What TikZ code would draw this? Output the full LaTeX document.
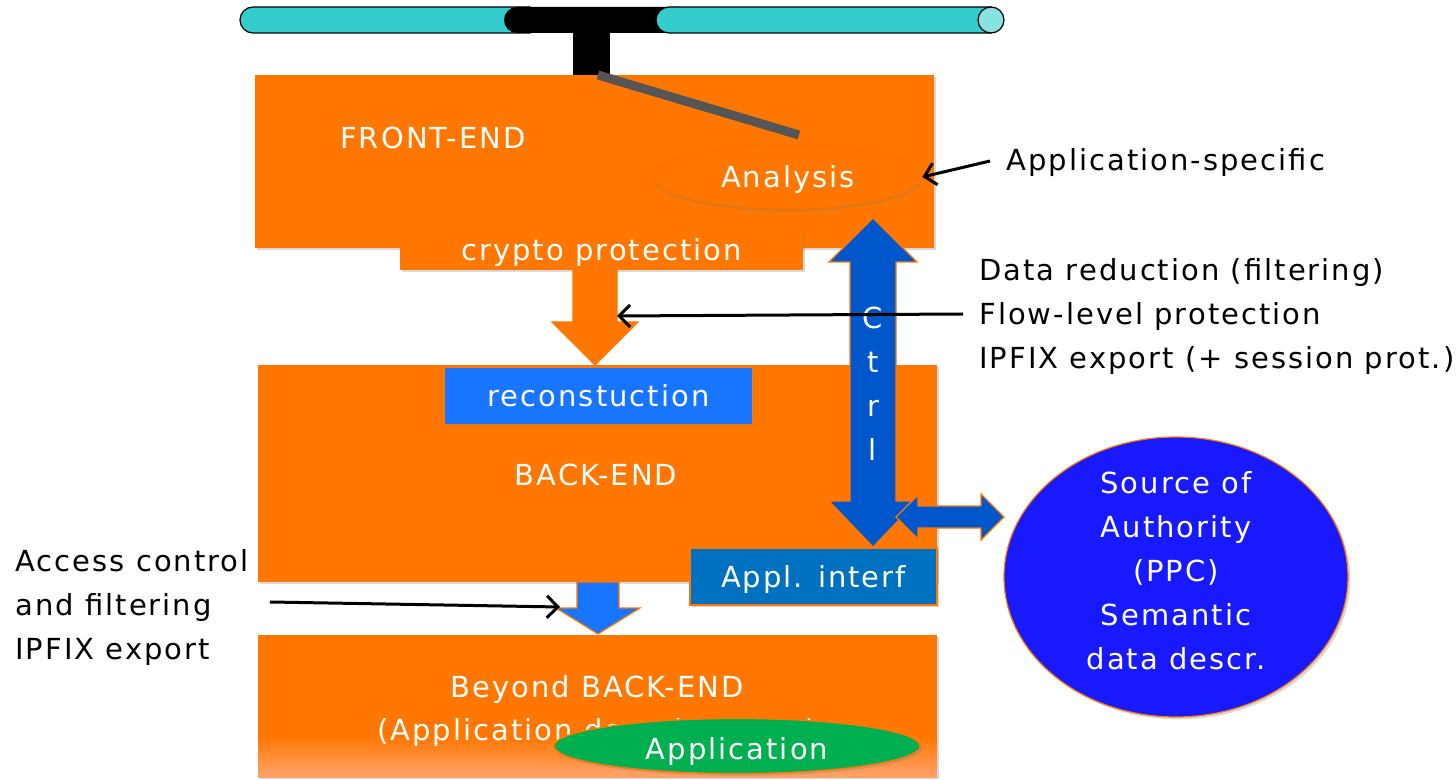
\documentclass[tikz,border=0pt]{standalone}
\usepackage{fontspec}
\setmainfont{DejaVu Sans}[LetterSpace=7]
\usetikzlibrary{arrows.meta,shadows,calc,shapes.geometric}

\definecolor{boxorange}{HTML}{FF7700}
\definecolor{lightorange}{HTML}{FFA36A}
\definecolor{pipecyan}{HTML}{33CCCC}
\definecolor{pipeface}{HTML}{88E2E0}
\definecolor{bargray}{HTML}{555555}
\definecolor{reconblue}{HTML}{1775FF}
\definecolor{ctrlblue}{HTML}{0057CC}
\definecolor{interfblue}{HTML}{0070C0}
\definecolor{authblue}{HTML}{1919FF}
\definecolor{appgreen}{HTML}{00B050}

\tikzset{
  softshadow/.style={drop shadow={opacity=0.3,shadow xshift=1.2pt,shadow yshift=-1.2pt}},
  block/.style={fill=boxorange, inner sep=0pt, softshadow},
  subbox/.style={inner sep=0pt, softshadow},
  wtext/.style={text=white, inner sep=0pt, text height=0.72em, text depth=0.02em, yshift=-2pt},
  note/.style={text=black, align=left, inner sep=0pt, anchor=west, yshift=-1.5pt},
  pointer/.style={draw=black, line width=1.5pt, -{Straight Barb[length=5.5pt,width=11pt,line width=1.5pt]}},
  blockarrow/.style={draw=boxorange, line width=0.6pt, line join=miter},
}

\begin{document}
\begin{tikzpicture}[x=0.5pt,y=-0.5pt,font=\fontsize{14.5pt}{22pt}\selectfont]
\useasboundingbox (0,0) rectangle (1456,780);

% ---- network pipe with tap ----
\filldraw[fill=pipecyan,draw=black,line width=0.6pt]
  (530,7) -- (253,7) arc[start angle=270,end angle=90,radius=13] -- (530,33) -- cycle;
\fill[black] (680,7) -- (517,7) arc[start angle=270,end angle=90,radius=13] -- (680,33) -- cycle;
\filldraw[fill=pipecyan,draw=black,line width=0.6pt]
  (991,7) -- (669,7) arc[start angle=270,end angle=90,radius=13] -- (991,33) -- cycle;
\filldraw[fill=pipeface,draw=black,line width=0.6pt] (991,20) circle[radius=13];
\fill[black] (573,30) rectangle (610,76);

% ---- front-end ----
\node[block, minimum width=339.5pt, minimum height=86.5pt] (fe) at (594.5,161.5) {};
\node[wtext] (fetext) at (433,138) {FRONT-END};
\draw[line width=4.5pt, bargray, softshadow] (598,75) -- (799,135);
\node[ellipse, fill=boxorange, draw=boxorange!95!black, line width=0.3pt, inner sep=0pt,
      minimum width=134pt, minimum height=32pt,
      drop shadow={opacity=0.3,shadow xshift=0pt,shadow yshift=-1.2pt}] (ana) at (788,177) {};
\node[wtext] at (ana) {Analysis};
\node[block, minimum width=201.5pt, minimum height=20pt] (crypto) at (601.5,250) {};
\node[wtext] at (crypto) {crypto protection};

% ---- back-end ----
\node[block, minimum width=339.5pt, minimum height=108.5pt] (be) at (597.5,473.5) {};
\node[wtext] (betext) at (596,474) {BACK-END};
\node[subbox, fill=reconblue, draw=boxorange, line width=0.6pt,
      minimum width=154.5pt, minimum height=29pt] (recon) at (598.5,396) {};
\node[wtext] at (recon) {reconstuction};

% orange flow arrow from crypto protection into the back-end
\filldraw[fill=boxorange, blockarrow]
  (573,270) -- (573,322) -- (552,322) -- (595,365) -- (638,322) -- (617,322) -- (617,270) -- cycle;
\coordinate (flowedge) at (617,316);

% ---- control channel ----
\filldraw[fill=ctrlblue, blockarrow]
  (873,218) -- (917,262) -- (896,262) -- (896,501) -- (917,501) -- (873,547)
  -- (829,501) -- (850,501) -- (850,262) -- (829,262) -- cycle;
\node[text=white, inner sep=0pt, align=center] (ctrl) at (873,384) {C\\t\\r\\l};

\node[subbox, fill=interfblue, draw=boxorange, line width=0.6pt,
      minimum width=123.5pt, minimum height=28.5pt] (interf) at (813.5,576.5) {};
\node[wtext] at (interf) {Appl. interf};

% ---- source of authority ----
\node[ellipse, fill=authblue, draw=boxorange, line width=0.6pt, inner sep=0pt,
      minimum width=172pt, minimum height=140pt, softshadow] (auth) at (1176,577) {};
\node[text=white, align=center, inner sep=0pt] at (1176,571)
  {Source of\\Authority\\(PPC)\\Semantic\\data descr.};

\filldraw[fill=ctrlblue, blockarrow]
  (896,517) -- (918,495) -- (918,506) -- (981,506) -- (981,494) -- (1004,517)
  -- (981,540) -- (981,528) -- (918,528) -- (918,539) -- cycle;

% ---- beyond back-end ----
\node[block, minimum width=339.5pt, minimum height=71pt] (bbe) at (597.5,706) {};
\shade[top color=boxorange, bottom color=lightorange] (258,736) rectangle (937,777);
\node[wtext] at (597,686) {Beyond BACK-END};
\node[wtext] at (597,729) {(Application domain/users)};
\node[ellipse, fill=appgreen, draw=boxorange, line width=0.6pt, inner sep=0pt,
      minimum width=183pt, minimum height=27.5pt, softshadow] (app) at (737,746) {};
\node[wtext] at (737,748) {Application};

% blue flow arrow from back-end to beyond back-end
\filldraw[fill=reconblue, blockarrow]
  (577,582) -- (577,608) -- (556,608) -- (598,634) -- (640,608) -- (619,608) -- (619,582) -- cycle;
\coordinate (accend) at (560,607);

% ---- annotations ----
\node[note] (appspec) at (1006,160) {Application-specific};
\node[note] (frontnotes) at (979,314)
  {Data reduction (filtering)\\Flow-level protection\\IPFIX export (+ session prot.)};
\node[note] (accnotes) at (15,604)
  {Access control\\and filtering\\IPFIX export};
\coordinate (accstart) at (270,602);

\draw[pointer] ([xshift=-8pt,yshift=1pt]appspec.west) -- (ana.east);
\draw[pointer] ([xshift=-8pt,yshift=1.5pt]frontnotes.west) -- (flowedge);
\draw[pointer] (accstart) -- (accend);
\end{tikzpicture}
\end{document}
